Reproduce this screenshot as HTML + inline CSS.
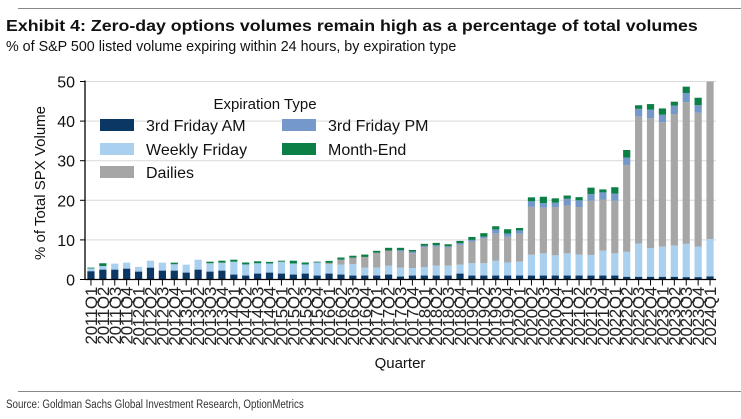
<!DOCTYPE html>
<html><head><meta charset="utf-8"><style>
body{margin:0;background:#fff;font-family:"Liberation Sans",sans-serif;}
#wrap{position:relative;width:741px;height:419px;overflow:hidden;}
.t{position:absolute;white-space:nowrap;color:#111;transform-origin:0 0;}
</style></head><body>
<div id="wrap">
<div style="position:absolute;left:18px;top:8px;width:723px;height:1px;background:#888"></div>
<div class="t" style="left:6px;top:18px;font-size:16px;font-weight:bold;transform:scaleX(1.11)">Exhibit 4: Zero-day options volumes remain high as a percentage of total volumes</div>
<div class="t" style="left:6px;top:39px;font-size:14.3px">% of S&amp;P 500 listed volume expiring within 24 hours, by expiration type</div>
<svg id="chart" width="741" height="419" style="position:absolute;left:0;top:0"></svg>
<div style="position:absolute;left:18px;top:391px;width:723px;height:1px;background:#888"></div>
<div class="t" style="left:6px;top:399px;font-size:11.5px;color:#333;transform:scaleX(0.85)">Source: Goldman Sachs Global Investment Research, OptionMetrics</div>
</div>
<script>
const quarters=[];for(let y=2011;y<=2024;y++)for(let q=1;q<=4;q++){if(y===2024&&q>1)break;quarters.push(y+'Q'+q);}
const am=[2.1,2.5,2.5,2.75,2.0,3.0,2.25,2.25,1.75,2.5,2.0,2.25,1.25,1.0,1.5,1.75,1.5,1.25,1.5,1.0,1.5,1.25,1.0,1.0,1.0,1.25,0.75,1.0,1.0,1.0,1.0,1.5,1.0,1.0,1.0,1.0,1.0,1.0,1.0,1.0,1.0,1.0,1.0,1.0,1.0,0.7,0.7,0.7,0.7,0.7,0.6,0.6,0.8];
const weekly=[0.7,0.9,1.5,1.5,1.2,1.75,2.0,1.6,2.0,2.5,2.1,2.0,3.25,2.8,2.6,2.3,3.0,2.8,2.3,3.3,2.4,2.5,2.9,2.0,2.0,2.25,2.25,1.9,2.1,2.5,2.5,2.25,3.1,3.1,3.75,3.3,3.5,5.25,5.6,5.1,5.6,5.3,5.2,6.3,5.6,6.3,8.4,7.2,7.6,7.9,8.4,7.7,9.4];
const dailies=[0,0,0,0,0,0,0,0,0,0,0,0,0,0,0,0,0,0,0,0,0.3,1.3,1.6,2.7,3.75,3.8,4.1,3.75,5.1,4.8,4.6,5.0,5.5,6.3,6.9,6.5,7.1,12.1,11.6,12.2,12.1,12.0,13.7,12.9,13.3,21.9,32.1,32.8,31.4,33.2,35.8,33.8,39.8];
const pm=[0,0,0,0,0,0,0,0,0,0,0,0,0,0,0,0,0,0,0,0,0,0,0,0,0,0,0.3,0.4,0.3,0.35,0.3,0.4,0.4,0.4,1.0,0.8,0.8,1.4,1.1,1.1,1.7,1.7,1.7,1.8,1.8,1.9,1.9,2.2,1.9,2.1,2.3,1.9,0];
const monthEnd=[0.2,0.7,0,0,0,0,0,0.4,0,0,0.4,0.5,0.5,0.5,0.5,0.4,0.25,0.7,0.5,0.2,0.5,0.5,0.5,0.6,0.5,0.7,0.6,0.4,0.5,0.6,0.5,0.6,0.75,0.9,0.8,1.1,0.6,1.0,1.6,1.1,0.8,0.8,1.6,0.75,1.6,1.9,0.9,1.4,1.6,1.0,1.6,1.9,0];
const yTicks=[0,10,20,30,40,50];
const series=[['am',am,'#0b3764','3rd-friday-am'],['weekly',weekly,'#a9d1ef','weekly-friday'],['dailies',dailies,'#a6a6a6','dailies'],['pm',pm,'#7398c9','3rd-friday-pm'],['monthEnd',monthEnd,'#0c7f46','month-end']];
const svg=document.getElementById('chart');const NS='http://www.w3.org/2000/svg';
const X0=85,X1=716,Y0=279.5,Y50=81.5;
const yS=v=>Y0-(v/50)*(Y0-Y50);
const step=(X1-X0)/quarters.length;
const xC=i=>X0+step*(i+0.5);
function mk(t,a){const e=document.createElementNS(NS,t);for(const k in a)e.setAttribute(k,a[k]);svg.appendChild(e);return e;}
yTicks.forEach(v=>{
 if(v>0){const g=mk('line',{x1:X0,x2:X1,y1:yS(v),y2:yS(v),stroke:'#d9d9d9','stroke-width':1});
 
 }
 const tk=mk('line',{x1:X0-5,x2:X0,y1:yS(v),y2:yS(v),stroke:'#000'});
 
 
 const t=mk('text',{x:X0-10,y:yS(v)+6,'text-anchor':'end','font-size':16,fill:'#111','font-family':'Liberation Sans'});t.textContent=v;
 
 
});
quarters.forEach((q,i)=>{
 let base=0;
 series.forEach(s=>{const v=s[1][i];if(v>0){
  const top=Math.min(base+v,50.5);
  const r=mk('rect',{x:xC(i)-3.6,width:7.2,y:yS(top),height:Math.max(0,yS(base)-yS(top)),fill:s[2]});
  
  }
  base+=v;});
 const tk=mk('line',{x1:xC(i),x2:xC(i),y1:Y0,y2:Y0+6,stroke:'#000'});
 
 
 const t=mk('text',{x:0,y:0,'font-size':17,fill:'#222','font-family':'Liberation Sans','text-anchor':'end',transform:`translate(${xC(i)+6},287) rotate(-90)`,'letter-spacing':'-0.3'});t.textContent=q;
 
 
});
const ax=mk('line',{x1:X0,x2:X0,y1:Y50-1,y2:Y0,stroke:'#000','stroke-width':1.3});


const bx=mk('line',{x1:X0,x2:X1,y1:Y0,y2:Y0,stroke:'#000','stroke-width':1.3});


const yt=mk('text',{x:0,y:0,'font-size':15,fill:'#111','font-family':'Liberation Sans','text-anchor':'middle',transform:'translate(45,183) rotate(-90)'});yt.textContent='% of Total SPX Volume';


const xt=mk('text',{x:400,y:368,'font-size':15,fill:'#111','font-family':'Liberation Sans','text-anchor':'middle'});xt.textContent='Quarter';


const lt=mk('text',{x:265,y:109,'font-size':15,fill:'#111','font-family':'Liberation Sans','text-anchor':'middle'});lt.textContent='Expiration Type';


const leg=[['3rd Friday AM','#0b3764',100,125],['3rd Friday PM','#7398c9',282,125],['Weekly Friday','#a9d1ef',100,149],['Month-End','#0c7f46',282,149],['Dailies','#a6a6a6',100,172]];
leg.forEach(l=>{
 const r=mk('rect',{x:l[2],y:l[3]-6,width:34,height:12,fill:l[1]});
 
 
 const t=mk('text',{x:l[2]+46,y:l[3]+6,'font-size':16,fill:'#111','font-family':'Liberation Sans'});t.textContent=l[0];
 
 
});
</script>
</body></html>
